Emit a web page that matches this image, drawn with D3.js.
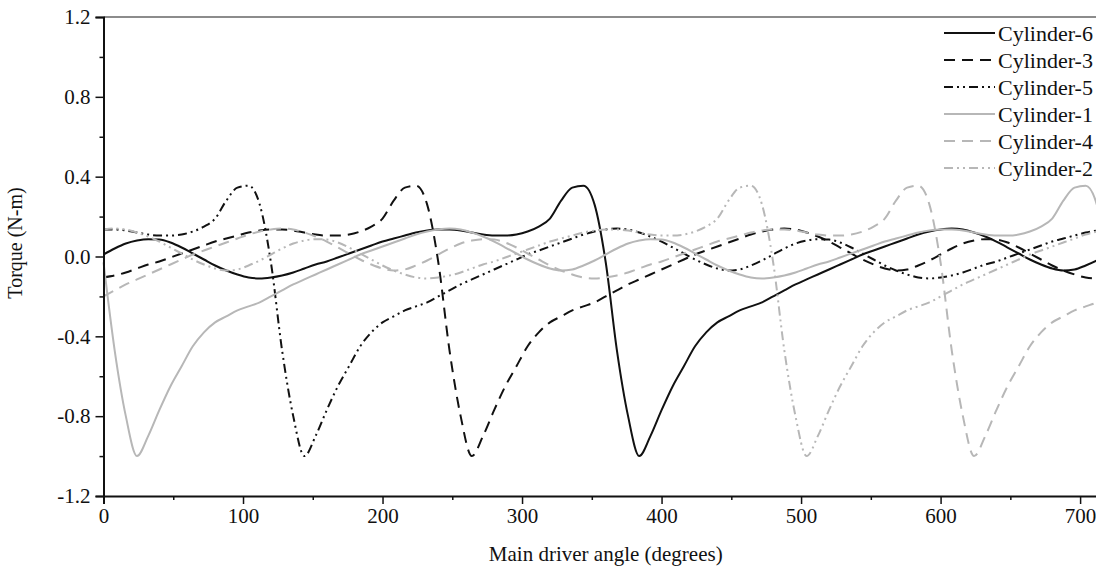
<!DOCTYPE html>
<html>
<head>
<meta charset="utf-8">
<script src="https://cdn.jsdelivr.net/npm/d3@7"></script>
<style>
  body { margin: 0; background: #fff; }
  svg { display: block; }
</style>
</head>
<body>
<div id="chart"></div>
<script>
// crank angle samples (degrees)
const angles = [0,8,16,24,32,40,48,56,64,72,80,88,96,104,112,120,128,136,144,152,
  160,168,176,184,192,200,208,216,224,232,240,248,256,264,272,280,288,296,304,312,
  320,328,336,344,352,360,368,376,384,392,400,408,416,424,432,440,448,456,464,472,
  480,488,496,504,512,520,528,536,544,552,560,568,576,584,592,600,608,616,624,632,
  640,648,656,664,672,680,688,696,704,712,720];

// torque values (N-m)
const cyl6 = [0.01,0.04,0.065,0.08,0.087,0.085,0.07,0.045,0.015,-0.015,-0.045,-0.07,-0.09,-0.105,-0.11,
  -0.105,-0.095,-0.08,-0.06,-0.04,-0.025,-0.005,0.015,0.035,0.055,0.075,0.09,0.105,0.12,0.13,
  0.135,0.135,0.13,0.12,0.11,0.105,0.105,0.11,0.125,0.15,0.19,0.28,0.345,0.355,0.26,
  -0.03,-0.47,-0.80,-1.00,-0.90,-0.77,-0.65,-0.55,-0.45,-0.38,-0.33,-0.30,-0.27,-0.25,-0.23,
  -0.20,-0.17,-0.14,-0.115,-0.09,-0.065,-0.04,-0.015,0.01,0.03,0.05,0.07,0.09,0.11,0.125,
  0.135,0.14,0.135,0.12,0.10,0.075,0.045,0.015,-0.015,-0.04,-0.06,-0.07,-0.065,-0.045,-0.02,
  0.01];
const cyl3 = [-0.105,-0.095,-0.08,-0.06,-0.04,-0.025,-0.005,0.015,0.035,0.055,0.075,0.09,0.105,0.12,0.13,
  0.135,0.135,0.13,0.12,0.11,0.105,0.105,0.11,0.125,0.15,0.19,0.28,0.345,0.355,0.26,
  -0.03,-0.47,-0.80,-1.00,-0.90,-0.77,-0.65,-0.55,-0.45,-0.38,-0.33,-0.30,-0.27,-0.25,-0.23,
  -0.20,-0.17,-0.14,-0.115,-0.09,-0.065,-0.04,-0.015,0.01,0.03,0.05,0.07,0.09,0.11,0.125,
  0.135,0.14,0.135,0.12,0.10,0.075,0.045,0.015,-0.015,-0.04,-0.06,-0.07,-0.065,-0.045,-0.02,
  0.01,0.04,0.065,0.08,0.087,0.085,0.07,0.045,0.015,-0.015,-0.045,-0.07,-0.09,-0.105,-0.11,
  -0.105];
const cyl5 = [0.135,0.135,0.13,0.12,0.11,0.105,0.105,0.11,0.125,0.15,0.19,0.28,0.345,0.355,0.26,
  -0.03,-0.47,-0.80,-1.00,-0.90,-0.77,-0.65,-0.55,-0.45,-0.38,-0.33,-0.30,-0.27,-0.25,-0.23,
  -0.20,-0.17,-0.14,-0.115,-0.09,-0.065,-0.04,-0.015,0.01,0.03,0.05,0.07,0.09,0.11,0.125,
  0.135,0.14,0.135,0.12,0.10,0.075,0.045,0.015,-0.015,-0.04,-0.06,-0.07,-0.065,-0.045,-0.02,
  0.01,0.04,0.065,0.08,0.087,0.085,0.07,0.045,0.015,-0.015,-0.045,-0.07,-0.09,-0.105,-0.11,
  -0.105,-0.095,-0.08,-0.06,-0.04,-0.025,-0.005,0.015,0.035,0.055,0.075,0.09,0.105,0.12,0.13,
  0.135];
const cyl1 = [-0.03,-0.47,-0.80,-1.00,-0.90,-0.77,-0.65,-0.55,-0.45,-0.38,-0.33,-0.30,-0.27,-0.25,-0.23,
  -0.20,-0.17,-0.14,-0.115,-0.09,-0.065,-0.04,-0.015,0.01,0.03,0.05,0.07,0.09,0.11,0.125,
  0.135,0.14,0.135,0.12,0.10,0.075,0.045,0.015,-0.015,-0.04,-0.06,-0.07,-0.065,-0.045,-0.02,
  0.01,0.04,0.065,0.08,0.087,0.085,0.07,0.045,0.015,-0.015,-0.045,-0.07,-0.09,-0.105,-0.11,
  -0.105,-0.095,-0.08,-0.06,-0.04,-0.025,-0.005,0.015,0.035,0.055,0.075,0.09,0.105,0.12,0.13,
  0.135,0.135,0.13,0.12,0.11,0.105,0.105,0.11,0.125,0.15,0.19,0.28,0.345,0.355,0.26,
  -0.03];
const cyl4 = [-0.20,-0.17,-0.14,-0.115,-0.09,-0.065,-0.04,-0.015,0.01,0.03,0.05,0.07,0.09,0.11,0.125,
  0.135,0.14,0.135,0.12,0.10,0.075,0.045,0.015,-0.015,-0.04,-0.06,-0.07,-0.065,-0.045,-0.02,
  0.01,0.04,0.065,0.08,0.087,0.085,0.07,0.045,0.015,-0.015,-0.045,-0.07,-0.09,-0.105,-0.11,
  -0.105,-0.095,-0.08,-0.06,-0.04,-0.025,-0.005,0.015,0.035,0.055,0.075,0.09,0.105,0.12,0.13,
  0.135,0.135,0.13,0.12,0.11,0.105,0.105,0.11,0.125,0.15,0.19,0.28,0.345,0.355,0.26,
  -0.03,-0.47,-0.80,-1.00,-0.90,-0.77,-0.65,-0.55,-0.45,-0.38,-0.33,-0.30,-0.27,-0.25,-0.23,
  -0.20];
const cyl2 = [0.135,0.14,0.135,0.12,0.10,0.075,0.045,0.015,-0.015,-0.04,-0.06,-0.07,-0.065,-0.045,-0.02,
  0.01,0.04,0.065,0.08,0.087,0.085,0.07,0.045,0.015,-0.015,-0.045,-0.07,-0.09,-0.105,-0.11,
  -0.105,-0.095,-0.08,-0.06,-0.04,-0.025,-0.005,0.015,0.035,0.055,0.075,0.09,0.105,0.12,0.13,
  0.135,0.135,0.13,0.12,0.11,0.105,0.105,0.11,0.125,0.15,0.19,0.28,0.345,0.355,0.26,
  -0.03,-0.47,-0.80,-1.00,-0.90,-0.77,-0.65,-0.55,-0.45,-0.38,-0.33,-0.30,-0.27,-0.25,-0.23,
  -0.20,-0.17,-0.14,-0.115,-0.09,-0.065,-0.04,-0.015,0.01,0.03,0.05,0.07,0.09,0.11,0.125,
  0.135];

const seriesNames = ["Cylinder-6", "Cylinder-3", "Cylinder-5", "Cylinder-1", "Cylinder-4", "Cylinder-2"];
const seriesValues = [cyl6, cyl3, cyl5, cyl1, cyl4, cyl2];

const xTicks = [0, 100, 200, 300, 400, 500, 600, 700];
const yTicks = [-1.2, -0.8, -0.4, 0.0, 0.4, 0.8, 1.2];

// line look for each series
const black = "#111111", grey = "#b7b7b7";
const styles = {
  "Cylinder-6": { color: black, dash: null },
  "Cylinder-3": { color: black, dash: "11,7" },
  "Cylinder-5": { color: black, dash: "9,4,2,4,2,4" },
  "Cylinder-1": { color: grey, dash: null },
  "Cylinder-4": { color: grey, dash: "11,7" },
  "Cylinder-2": { color: grey, dash: "9,4,2,4,2,4" }
};

const W = 1096, H = 570;
const font = "'Liberation Serif', 'Times New Roman', serif";

const svg = d3.select("#chart")
  .append("svg")
  .attr("width", W)
  .attr("height", H)
  .style("font-family", font);

svg.append("rect").attr("width", W).attr("height", H).attr("fill", "#fff");

// plot runs past the right edge, the picture is cropped there
const x = d3.scaleLinear().domain([0, 720]).range([103.5, 1108]);
const y = d3.scaleLinear().domain([-1.2, 1.2]).range([496, 17]);

// top frame line
svg.append("line")
  .attr("x1", x(0)).attr("x2", x(720))
  .attr("y1", y(1.2)).attr("y2", y(1.2))
  .attr("stroke", "#666").attr("stroke-width", 1.5);

// curves
const line = d3.line()
  .x((d, i) => x(angles[i]))
  .y(d => y(d))
  .curve(d3.curveMonotoneX);

svg.append("g")
  .selectAll("path")
  .data(seriesNames)
  .join("path")
  .attr("d", (d, i) => line(seriesValues[i]))
  .attr("fill", "none")
  .attr("stroke", d => styles[d].color)
  .attr("stroke-width", 2)
  .attr("stroke-dasharray", d => styles[d].dash);

// plain hyphen for negatives, like the original
const fmtY = d => d3.format(".1f")(d).replace("\u2212", "-");

// x axis
svg.append("g")
  .attr("transform", `translate(0,${y(-1.2)})`)
  .call(d3.axisBottom(x).tickValues(xTicks).tickFormat(d3.format("d")).tickSizeOuter(0).tickSize(8).tickPadding(4));
svg.append("g")
  .attr("transform", `translate(0,${y(-1.2)})`)
  .call(d3.axisBottom(x).tickValues([50, 150, 250, 350, 450, 550, 650]).tickFormat("").tickSizeOuter(0).tickSize(4))
  .call(g => g.select(".domain").remove());

// y axis
svg.append("g")
  .attr("transform", `translate(${x(0)},0)`)
  .call(d3.axisLeft(y).tickValues(yTicks).tickFormat(fmtY).tickSizeOuter(0).tickSize(8).tickPadding(5));
svg.append("g")
  .attr("transform", `translate(${x(0)},0)`)
  .call(d3.axisLeft(y).tickValues([-1.0, -0.6, -0.2, 0.2, 0.6, 1.0]).tickFormat("").tickSizeOuter(0).tickSize(4))
  .call(g => g.select(".domain").remove());

svg.selectAll(".domain").attr("stroke", "#111").attr("stroke-width", 2);
svg.selectAll(".tick line").attr("stroke", "#111").attr("stroke-width", 1.5);
svg.selectAll(".tick text")
  .style("font-family", font)
  .style("font-size", "21px")
  .attr("fill", "#111");

// axis titles
svg.append("text")
  .attr("x", x(360))
  .attr("y", 561)
  .attr("text-anchor", "middle")
  .style("font-size", "21px")
  .attr("fill", "#111")
  .text("Main driver angle (degrees)");

svg.append("text")
  .attr("transform", "translate(22,243) rotate(-90)")
  .attr("text-anchor", "middle")
  .style("font-size", "20px")
  .attr("fill", "#111")
  .text("Torque (N-m)");

// legend
const legend = svg.append("g")
  .selectAll("g")
  .data(seriesNames)
  .join("g")
  .attr("transform", (d, i) => `translate(944,${33 + i * 27})`);

legend.append("line")
  .attr("x1", 0).attr("x2", 51)
  .attr("stroke", d => styles[d].color)
  .attr("stroke-width", 2)
  .attr("stroke-dasharray", d => styles[d].dash);

legend.append("text")
  .attr("x", 54)
  .attr("dy", "0.35em")
  .style("font-size", "22px")
  .attr("fill", "#111")
  .text(d => d);
</script>
</body>
</html>
